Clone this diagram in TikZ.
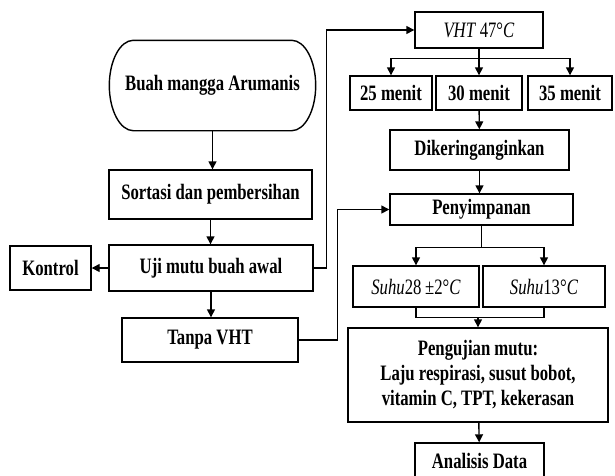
\documentclass[tikz,border=0pt]{standalone}
\usepackage{fontspec}
\setmainfont{Liberation Serif}[FakeStretch=0.76]
\usetikzlibrary{arrows.meta}

\begin{document}
\begin{tikzpicture}[x=1pt, y=-1pt,
  every node/.style={draw=black, line width=1.4pt, rectangle, inner sep=2pt, align=center,
    font=\fontsize{22}{25}\selectfont\bfseries},
  ital/.style={font=\fontsize{22}{25}\selectfont\mdseries},
  arr/.style={-{Triangle[width=8pt,length=8pt]}},
  line/.style={line width=1.4pt}]
\useasboundingbox (0,0) rectangle (615,475);
\clip (0,0) rectangle (615,475);

% left column
\node[draw=none, minimum width=205pt, minimum height=89pt] (buah) at (212.5,85.5) {Buah mangga Arumanis};
\draw[line] ([xshift=24pt]buah.north west) -- ([xshift=-24pt]buah.north east)
  .. controls ([xshift=-10.7pt]buah.north east) and ([yshift=24.6pt]buah.east) .. (buah.east)
  .. controls ([yshift=-24.6pt]buah.east) and ([xshift=-10.7pt]buah.south east) .. ([xshift=-24pt]buah.south east)
  -- ([xshift=24pt]buah.south west)
  .. controls ([xshift=10.7pt]buah.south west) and ([yshift=-24.6pt]buah.west) .. (buah.west)
  .. controls ([yshift=24.6pt]buah.west) and ([xshift=10.7pt]buah.north west) .. ([xshift=24pt]buah.north west)
  -- cycle;
\node[minimum width=203pt, minimum height=49pt] (sortasi) at (210.5,194.5) {Sortasi dan pembersihan};
\node[minimum width=204pt, minimum height=46pt] (uji) at (211,268) {Uji mutu buah awal};
\node[minimum width=81pt, minimum height=44pt] (kontrol) at (50.5,268) {Kontrol};
\node[minimum width=176pt, minimum height=44pt] (tanpa) at (210,340) {Tanpa VHT};

% right column
\node[ital, minimum width=128pt, minimum height=36pt] (vht) at (479,30) {\textit{VHT}\,47°\textit{C}};
\node[minimum width=82pt, minimum height=34pt] (m25) at (391,93) {25 menit};
\node[minimum width=86pt, minimum height=34pt] (m30) at (479,93) {30 menit};
\node[minimum width=84pt, minimum height=34pt] (m35) at (570,93) {35 menit};
\node[minimum width=179pt, minimum height=40pt] (kering) at (479.5,150) {Dikeringanginkan};
\node[minimum width=183pt, minimum height=31pt] (simpan) at (481.5,209.5) {Penyimpanan};
\node[ital, minimum width=126pt, minimum height=41pt] (s28) at (416,286.5) {\textit{Suhu}28\,±2°\textit{C}};
\node[ital, minimum width=122pt, minimum height=41pt] (s13) at (544,286.5) {\textit{Suhu}13°\textit{C}};
\node[minimum width=260pt, minimum height=94pt] (mutu) at (478,375) {Pengujian mutu:\\Laju respirasi, susut bobot,\\vitamin C, TPT, kekerasan};
\node[minimum width=129pt, minimum height=36pt] (analisis) at (479.5,461) {Analisis Data};

% connectors
\draw[line, arr] (buah.south) -- (buah.south |- sortasi.north);
\draw[line, arr] (sortasi.south) -- (sortasi.south |- uji.north);
\draw[line, arr] (uji) -- (kontrol);
\draw[line, arr] (uji.south) -- (uji.south |- tanpa.north);
\draw[line, arr] (uji.east) -- ++(13,0) |- (vht.west);
\draw[line, arr] (tanpa.east) -- ++(39,0) |- (simpan.west);

\coordinate (vj) at ([yshift=-10pt]vht.south);
\draw[line] (vht.south) -- (vj);
\draw[line, arr] (vj) -| (m25.north);
\draw[line, arr] (vj) -| (m35.north);
\draw[line, arr] (vj) -- (m30.north);
\draw[line, arr] (m30) -- (kering);
\draw[line, arr] (kering.south) -- (kering.south |- simpan.north);

\coordinate (pj) at ([yshift=-22pt]simpan.south);
\draw[line] (simpan.south) -- (pj);
\draw[line, arr] (pj) -| (s28.north);
\draw[line, arr] (pj) -| (s13.north);
\coordinate (sj) at ([yshift=10pt]mutu.north);
\draw[line] (s28.south) |- (sj) -| (s13.south);
\draw[line, arr] (sj) -- (mutu.north);
\draw[line, arr] (mutu) -- (analisis);
\end{tikzpicture}
\end{document}
